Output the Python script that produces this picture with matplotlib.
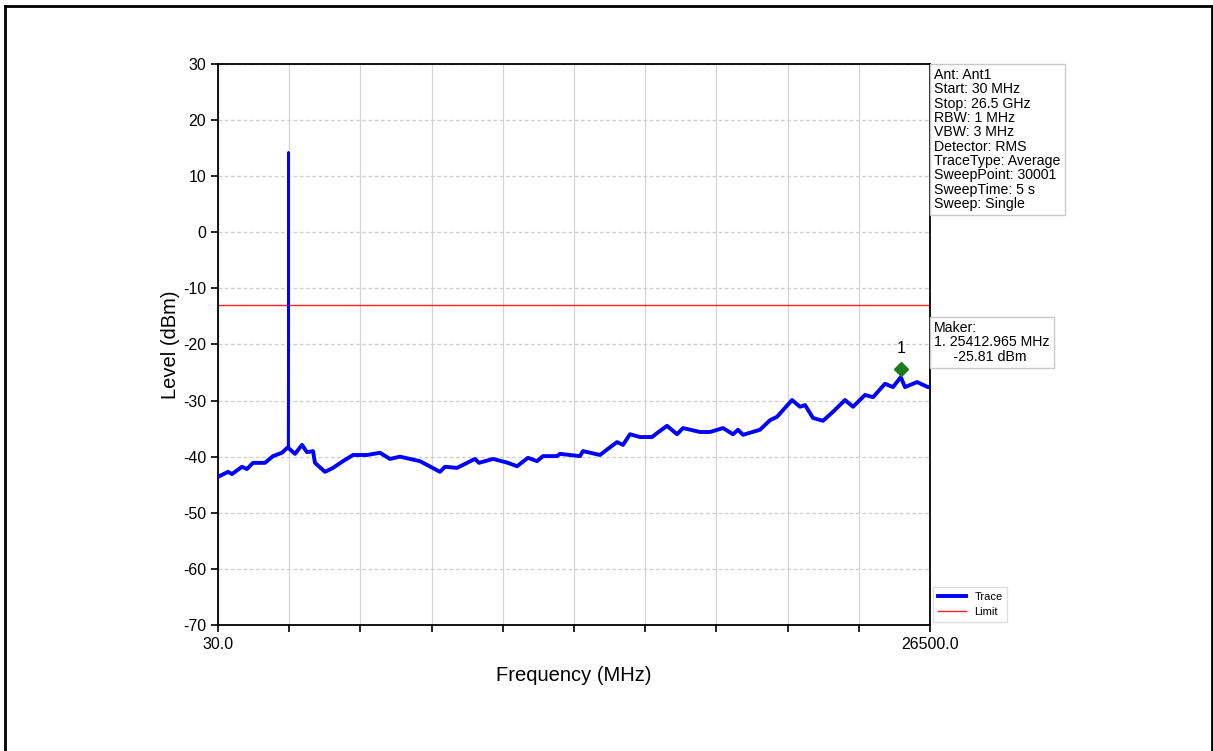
import matplotlib.pyplot as plt
import matplotlib.transforms as mtransforms
from matplotlib.lines import Line2D
import numpy as np

plt.rcParams['font.family'] = ['Liberation Sans', 'DejaVu Sans']
plt.rcParams['axes.unicode_minus'] = False

# trace (MHz, dBm)
freq = [30, 402, 550, 922, 1108, 1331, 1777, 2075, 2409, 2632, 2650, 2660,
        2893, 3153, 3339, 3562, 3636, 4008, 4305, 4677, 5049, 5569, 6053,
        6424, 6796, 7540, 8283, 8469, 8915, 9584, 9733, 10254, 10811, 11146,
        11555, 11890, 12113, 12633, 12745, 13488, 13600, 14232, 14529, 14864,
        15087, 15347, 15719, 16165, 16351, 16723, 17095, 17318, 17950, 18322,
        18805, 19177, 19363, 19549, 20180, 20552, 20812, 21370, 21667, 21853,
        22151, 22522, 22894, 23340, 23637, 24084, 24381, 24827, 25124,
        25412.965, 25570, 26016, 26425, 26500]
level = [-43.6, -42.7, -43.1, -41.8, -42.2, -41.1, -41.1, -39.9, -39.3, -38.3,
         14.3, -38.5, -39.5, -37.9, -39.2, -39.0, -41.1, -42.7, -42.0, -40.8,
         -39.7, -39.7, -39.3, -40.4, -40.0, -40.8, -42.7, -41.8, -42.0, -40.4,
         -41.1, -40.4, -41.1, -41.7, -40.2, -40.8, -39.9, -39.9, -39.5, -39.9,
         -39.0, -39.7, -38.6, -37.4, -37.9, -36.0, -36.5, -36.5, -35.8, -34.5,
         -36.0, -34.9, -35.6, -35.6, -34.9, -36.0, -35.2, -36.1, -35.2, -33.5,
         -32.9, -29.9, -31.1, -30.8, -33.1, -33.6, -32.0, -29.9, -31.1, -29.0,
         -29.4, -27.0, -27.6, -25.81, -27.6, -26.7, -27.6, -27.6]

limit_level = -13
marker_freq = 25412.965
marker_level = -25.81
f_start, f_stop = 30.0, 26500.0

info_lines = ["Ant: Ant1", "Start: 30 MHz", "Stop: 26.5 GHz", "RBW: 1 MHz",
              "VBW: 3 MHz", "Detector: RMS", "TraceType: Average",
              "SweepPoint: 30001", "SweepTime: 5 s", "Sweep: Single"]

fig = plt.figure(figsize=(12.13, 7.51), dpi=100)
ax = fig.add_axes([0.1797, 0.1678, 0.587, 0.747])

# spike is drawn thin, the rest of the trace thick
pk = int(np.argmax(level))
f_main = freq[:pk] + freq[pk + 1:]
l_main = level[:pk] + level[pk + 1:]
ax.plot(f_main, l_main, color='#0000ff', lw=2.8, label='Trace', zorder=3)
ax.plot(freq[pk - 1:pk + 2], level[pk - 1:pk + 2], color='#0000ff', lw=1.6,
        zorder=3)
ax.plot([f_start, f_stop], [limit_level, limit_level], color='#ff2020',
        lw=1.0, label='Limit', zorder=2)

# marker drawn a little above the trace point
off = mtransforms.offset_copy(ax.transData, fig=fig, x=0, y=8, units='dots')
ax.plot([marker_freq], [marker_level], marker='D', color='#1e7a1e',
        markersize=7, transform=off, zorder=4)
ax.annotate('1', (marker_freq, marker_level), xytext=(0, 17),
            textcoords='offset points', ha='center', fontsize=11.5)

ax.set_xlim(f_start, f_stop)
ax.set_ylim(-70, 30)
xt = np.linspace(f_start, f_stop, 11)
ax.set_xticks(xt)
ax.set_xticklabels(['30.0'] + [''] * 9 + ['26500.0'])
ax.set_yticks(np.arange(-70, 31, 10))
ax.tick_params(direction='out', labelsize=11.5, length=5, width=1.2)

ax.xaxis.grid(True, color='#d4d4d4', lw=0.9, ls='-')
ax.yaxis.grid(True, color='#cfcfcf', lw=0.9, ls=(0, (3, 2)))
ax.set_axisbelow(True)
for s in ax.spines.values():
    s.set_color('black')
    s.set_linewidth(1.3)

ax.set_xlabel('Frequency (MHz)', fontsize=14.5, labelpad=10)
ax.set_ylabel('Level (dBm)', fontsize=14.5, labelpad=2)

box = dict(boxstyle='square,pad=0.3', fc='white', ec='#c8c8c8', lw=1)
ax.text(1.006, 0.993, "\n".join(info_lines), transform=ax.transAxes,
        ha='left', va='top', fontsize=10.2, linespacing=1.03, bbox=box)
ax.text(1.006, 0.542, "Maker:\n1. 25412.965 MHz\n     -25.81 dBm",
        transform=ax.transAxes, ha='left', va='top', fontsize=10.2,
        linespacing=1.03, bbox=box)

leg = ax.legend(loc='lower left', bbox_to_anchor=(1.0, 0.0), fontsize=8,
                frameon=True, fancybox=False, handlelength=2.5,
                borderaxespad=0.3, edgecolor='#d8d8d8')

# page border
fig.add_artist(Line2D([0.004, 0.004], [0, 0.992], transform=fig.transFigure,
                      color='black', lw=2))
fig.add_artist(Line2D([0.004, 0.999], [0.992, 0.992], transform=fig.transFigure,
                      color='black', lw=2))
fig.add_artist(Line2D([0.999, 0.999], [0, 0.992], transform=fig.transFigure,
                      color='black', lw=2))

fig.savefig('out.png', dpi=100)
